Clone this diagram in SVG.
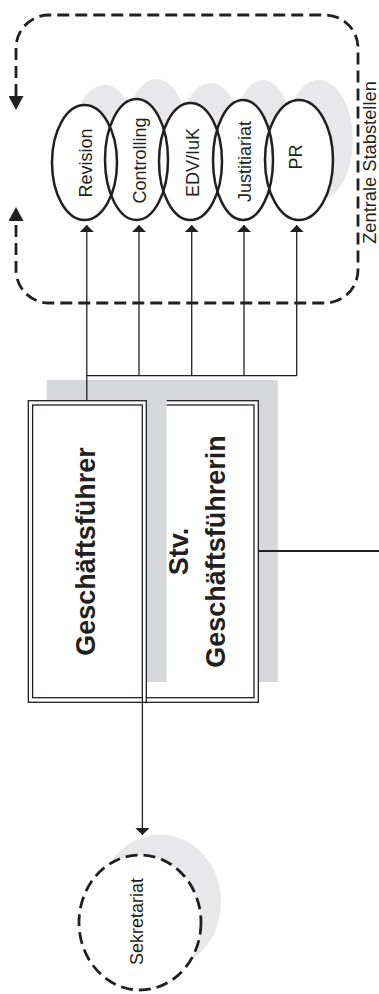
<svg xmlns="http://www.w3.org/2000/svg" width="379" height="994" viewBox="0 0 379 994">
<style>
.bg{fill:#ffffff}
.sh-e{fill:#e8e8ea}
.sh-b{fill:#d6d7da}
.outline{fill:none;stroke:#231f20;stroke-width:2.5}
.dash{fill:none;stroke:#231f20;stroke-width:2.8;stroke-dasharray:12 6}
.box{fill:#ffffff;stroke:#231f20;stroke-width:1.3}
.inner{fill:none;stroke:#231f20;stroke-width:1.3}
.conn{fill:none;stroke:#231f20;stroke-width:1.3}
.lbl{font-family:"Liberation Sans",Arial,Helvetica,sans-serif;font-size:18px;fill:#231f20;text-anchor:middle}
.big{font-family:"Liberation Sans",Arial,Helvetica,sans-serif;font-size:27px;font-weight:bold;fill:#231f20;text-anchor:middle}
</style>
<defs>
<marker id="arr" markerUnits="userSpaceOnUse" markerWidth="8" markerHeight="14" viewBox="0 0 7 14" refX="7" refY="7" orient="auto"><path d="M0,0 L7,7 L0,14 Z" fill="#231f20"/></marker>
<marker id="arrBig" markerUnits="userSpaceOnUse" markerWidth="14" markerHeight="15" viewBox="0 0 14 15" refX="0" refY="7.5" orient="auto-start-reverse"><path d="M0,0 L14,7.5 L0,15 Z" fill="#231f20"/></marker>
</defs>

<g id="zentrale-stabstellen">
<path class="dash" d="M16,96 V48 A33,33 0 0 1 49,15 H325 A33,33 0 0 1 358,48 V270 A33,33 0 0 1 325,303 H49 A33,33 0 0 1 16,270 V221" marker-start="url(#arrBig)" marker-end="url(#arrBig)"/>
<text class="lbl" transform="translate(375.5,162.5) rotate(-90)" style="font-size:18.3px">Zentrale Stabstellen</text>
</g>

<g id="staff-backgrounds">
<ellipse class="sh-e" cx="104.5" cy="142.5" rx="32.5" ry="57.5"/>
<ellipse class="sh-e" cx="156.5" cy="139.5" rx="31.5" ry="60.5"/>
<ellipse class="sh-e" cx="210.5" cy="141.5" rx="31.5" ry="58.5"/>
<ellipse class="sh-e" cx="263" cy="140" rx="30" ry="60"/>
<ellipse class="sh-e" cx="319" cy="140" rx="34" ry="60"/>
<ellipse class="bg" cx="84.5" cy="162.5" rx="32.5" ry="57.5"/>
<ellipse class="bg" cx="136.5" cy="159.5" rx="31.5" ry="60.5"/>
<ellipse class="bg" cx="190.5" cy="161.5" rx="31.5" ry="58.5"/>
<ellipse class="bg" cx="243" cy="160" rx="30" ry="60"/>
<ellipse class="bg" cx="299" cy="160" rx="34" ry="60"/>
</g>

<g id="revision">
<ellipse class="outline" cx="84.5" cy="162.5" rx="32.5" ry="57.5"/>
<text class="lbl" transform="translate(92,163) rotate(-90)">Revision</text>
</g>
<g id="controlling">
<ellipse class="outline" cx="136.5" cy="159.5" rx="31.5" ry="60.5"/>
<text class="lbl" transform="translate(146,160.5) rotate(-90)">Controlling</text>
</g>
<g id="edv-iuk">
<ellipse class="outline" cx="190.5" cy="161.5" rx="31.5" ry="58.5"/>
<text class="lbl" transform="translate(199,162.5) rotate(-90)">EDV/IuK</text>
</g>
<g id="justitiariat">
<ellipse class="outline" cx="243" cy="160" rx="30" ry="60"/>
<text class="lbl" transform="translate(251,161.5) rotate(-90)">Justitiariat</text>
</g>
<g id="pr">
<ellipse class="outline" cx="299" cy="160" rx="34" ry="60"/>
<text class="lbl" transform="translate(302,157) rotate(-90)">PR</text>
</g>

<g id="stv-geschaeftsfuehrerin">
<rect class="sh-b" x="152" y="380" width="125.7" height="302"/>
<rect class="box" x="134" y="400.7" width="124.3" height="301.6"/>
<rect class="inner" x="138.3" y="405" width="115.7" height="292.7"/>
<text class="big" transform="translate(188,551.5) rotate(-90)"><tspan x="0" y="0">Stv.</tspan><tspan x="0" y="36.5">Geschäftsführerin</tspan></text>
</g>

<g id="geschaeftsfuehrer">
<rect class="sh-b" x="46.7" y="380" width="120" height="302"/>
<rect class="box" x="28.3" y="400.7" width="118" height="301.6"/>
<rect class="inner" x="32.6" y="405" width="109.7" height="292.7"/>
<text class="big" transform="translate(95,551.5) rotate(-90)">Geschäftsführer</text>
</g>

<g id="sekretariat">
<ellipse class="sh-e" cx="160" cy="902" rx="61" ry="67.5"/>
<ellipse class="bg" cx="140" cy="922.5" rx="61" ry="67.5"/>
<ellipse class="dash" cx="140" cy="922.5" rx="61" ry="67.5"/>
<text class="lbl" transform="translate(143,921.5) rotate(-90)">Sekretariat</text>
</g>

<g id="connectors">
<path class="conn" d="M86.8,400.7 V375.7 H296.7"/>
<path class="conn" d="M86.8,375.7 V225" marker-end="url(#arr)"/>
<path class="conn" d="M139,375.7 V225" marker-end="url(#arr)"/>
<path class="conn" d="M191.7,375.7 V225" marker-end="url(#arr)"/>
<path class="conn" d="M244,375.7 V225" marker-end="url(#arr)"/>
<path class="conn" d="M296.7,375.7 V225" marker-end="url(#arr)"/>
<path class="conn" d="M142.4,697.7 V835" marker-end="url(#arr)"/>
<path class="conn" style="stroke-width:2" d="M258.3,551 H379"/>
</g>
</svg>
